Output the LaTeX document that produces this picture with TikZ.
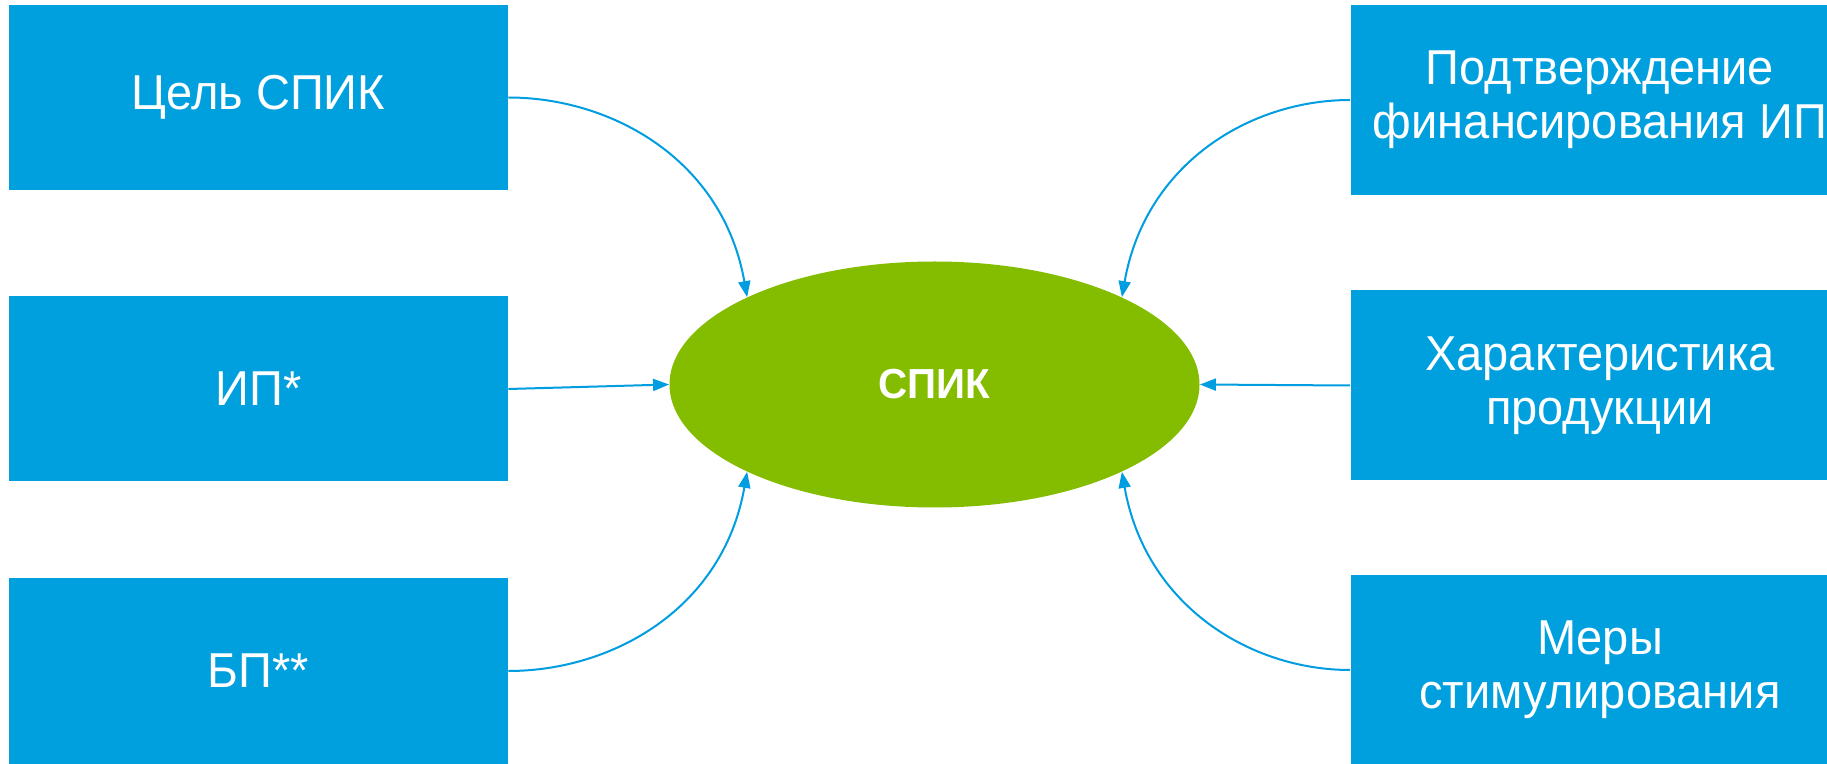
\documentclass[tikz,border=0pt]{standalone}
\usepackage{fontspec}
\setmainfont{Liberation Sans}[FakeStretch=0.96]
\usetikzlibrary{arrows.meta,shapes.geometric}
\definecolor{boxblue}{RGB}{0,160,223}
\definecolor{ellgreen}{RGB}{132,189,0}
\definecolor{arrblue}{RGB}{0,158,224}
\begin{document}
\begin{tikzpicture}[x=0.5pt,y=-0.5pt,
  lbox/.style={fill=boxblue, draw=none, minimum width=249.5pt, minimum height=92.5pt,
    inner sep=0pt, text=white, align=center, font=\fontsize{24.5}{27}\selectfont},
  rbox/.style={lbox, minimum height=95pt},
  conn/.style={draw=arrblue, line width=1pt, -{Triangle[length=8pt,width=6pt]}},
  ell/.style={ellipse, fill=ellgreen, draw=none, minimum width=265pt, minimum height=123pt,
    inner sep=0pt, text=white, font=\bfseries\fontsize{21}{24}\selectfont}
]
\path[use as bounding box, clip] (0,0) rectangle (1827,764);
\fill[white] (0,0) rectangle (1827,764);

\node[lbox] (goal) at (258.5,97.5) {Цель СПИК};
\node[lbox] (ip) at (258.5,389) {ИП*};
\node[lbox] (bp) at (258.5,671) {БП**};

\node[rbox] (fin) at (1600,100) {Подтверждение\\финансирования ИП};
\node[rbox] (prod) at (1600,385.5) {Характеристика\\продукции};
\node[rbox] (stim) at (1600,670) {Меры\\стимулирования};

\node[ell] (spik) at (934.5,384.5) {СПИК};

\draw[conn] (goal.east) to[out=0,in=100,out looseness=0.85,in looseness=1.15] (spik.155);
\draw[conn] (ip.east) -- (spik.west);
\draw[conn] (bp.east) to[out=0,in=-100,out looseness=0.85,in looseness=1.15] (spik.205);
\draw[conn] (fin.west) to[out=180,in=80,out looseness=0.85,in looseness=1.15] (spik.25);
\draw[conn] (prod.west) -- (spik.east);
\draw[conn] (stim.west) to[out=180,in=-80,out looseness=0.85,in looseness=1.15] (spik.335);
\end{tikzpicture}
\end{document}
